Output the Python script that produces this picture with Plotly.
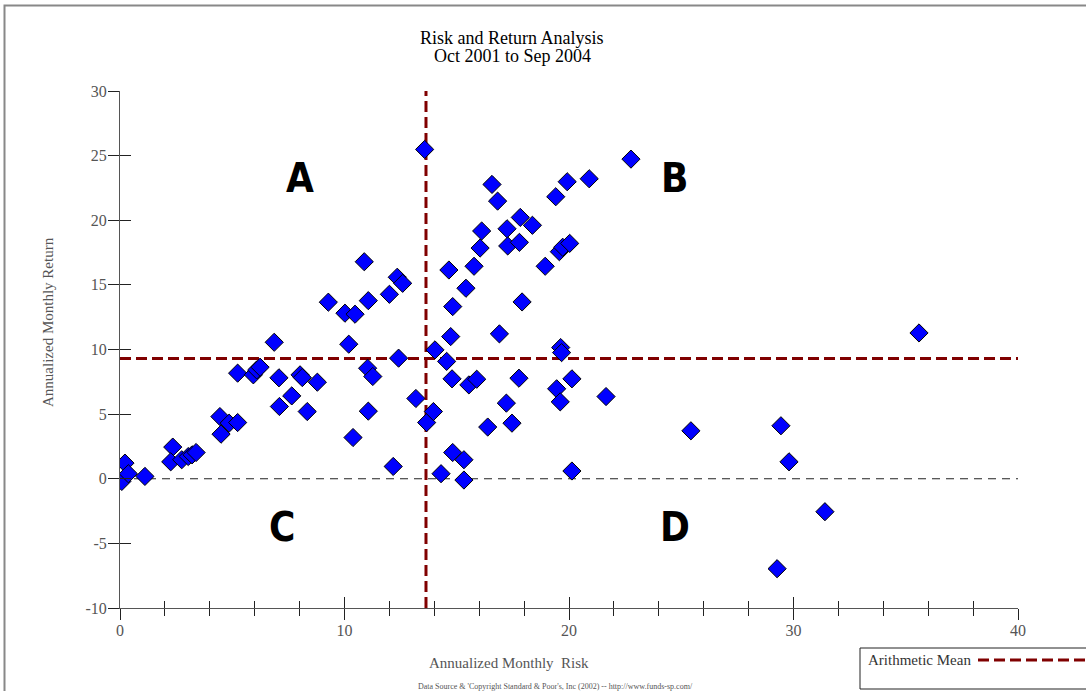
import plotly.graph_objects as go

# ---- data ----
risk = [0.08, 0.22, 0.37, 1.11, 2.35, 2.26, 2.75, 3.04, 3.21, 3.39,
        4.45, 4.86, 5.24, 4.50, 5.24, 5.94, 6.09, 6.24, 6.87, 7.08,
        7.10, 7.65, 8.02, 8.12, 8.34, 8.79, 9.28, 10.02, 10.19, 10.38,
        10.47, 10.88, 11.03, 11.06, 11.06, 11.26, 12.00, 12.17, 12.35, 12.59,
        12.41, 13.18, 13.57, 13.66, 13.96, 14.03, 14.30, 14.55, 14.65, 14.73,
        14.79, 14.82, 14.82, 15.32, 15.32, 15.41, 15.54, 15.89, 15.77, 16.04,
        16.11, 16.38, 16.57, 16.82, 16.90, 17.21, 17.24, 17.27, 17.46, 17.77,
        17.79, 17.83, 17.91, 18.37, 18.94, 19.41, 19.45, 19.57, 19.61, 19.63,
        19.67, 19.72, 19.92, 20.03, 20.13, 20.13, 20.90, 21.65, 22.76, 25.43,
        29.44, 29.80, 31.40, 29.27, 35.59]
ret = [-0.21, 1.21, 0.39, 0.18, 2.45, 1.31, 1.47, 1.72, 1.85, 2.03,
       4.81, 4.30, 4.35, 3.45, 8.17, 8.04, 8.42, 8.63, 10.56, 7.81,
       5.59, 6.41, 8.04, 7.83, 5.20, 7.47, 13.66, 12.81, 10.41, 3.19,
       12.73, 16.79, 8.55, 13.78, 5.23, 7.91, 14.27, 0.95, 15.59, 15.12,
       9.33, 6.21, 25.48, 4.35, 5.20, 9.97, 0.39, 9.08, 16.15, 11.00,
       7.73, 13.32, 2.03, 1.47, -0.10, 14.74, 7.26, 7.70, 16.44, 17.85,
       19.17, 4.00, 22.77, 21.48, 11.21, 5.85, 19.34, 18.01, 4.30, 7.78,
       18.29, 20.22, 13.68, 19.61, 16.44, 21.82, 6.96, 17.57, 5.95, 10.15,
       9.76, 17.91, 22.98, 18.21, 7.73, 0.60, 23.21, 6.36, 24.73, 3.71,
       4.10, 1.31, -2.55, -6.96, 11.28]

mean_risk = 13.63
mean_return = 9.3
x_range = [0, 40]
y_range = [-10, 30]
x_ticks = [0, 10, 20, 30, 40]
y_ticks = [-10, -5, 0, 5, 10, 15, 20, 25, 30]
y_tick_text = ["-10", "-5", "0", "5", "10", "15", "20", "25", "30"]

quadrant_labels = ["A", "B", "C", "D"]
quadrant_x = [8.0, 24.7, 7.2, 24.7]
quadrant_y = [23.3, 23.3, -3.7, -3.7]

title_lines = ["Risk and Return Analysis", "Oct 2001 to Sep 2004"]
x_title = "Annualized Monthly  Risk"
y_title = "Annualized Monthly Return"
footer = "Data Source & 'Copyright Standard & Poor's, Inc (2002) -- http://www.funds-sp.com/"
legend_label = "Arithmetic Mean"

SERIF = "Liberation Serif, DejaVu Serif, serif"
MEAN_COLOR = "#800000"
AX_COLOR = "#555555"
TICK_COLOR = "#222222"

fig = go.Figure()

# zero line
fig.add_trace(go.Scatter(x=x_range, y=[0, 0], mode="lines",
                         line=dict(color="#222222", width=1, dash="8px,6px"),
                         hoverinfo="skip", showlegend=False))
# mean lines
fig.add_trace(go.Scatter(x=x_range, y=[mean_return, mean_return], mode="lines",
                         line=dict(color=MEAN_COLOR, width=3, dash="11px,5px"),
                         name=legend_label, showlegend=False))
fig.add_trace(go.Scatter(x=[mean_risk, mean_risk], y=y_range, mode="lines",
                         line=dict(color=MEAN_COLOR, width=3, dash="11px,5px"),
                         showlegend=False, hoverinfo="skip"))
# funds
fig.add_trace(go.Scatter(x=risk, y=ret, mode="markers",
                         marker=dict(symbol="diamond", size=14, color="#0000FF",
                                     line=dict(color="black", width=1)),
                         showlegend=False))
# invisible trace for overlay axes (inner tick halves)
fig.add_trace(go.Scatter(x=[x_range[0]], y=[y_range[0]], xaxis="x2", yaxis="y2",
                         mode="markers", marker=dict(opacity=0),
                         hoverinfo="skip", showlegend=False))

# quadrant letters
for lab, qx, qy in zip(quadrant_labels, quadrant_x, quadrant_y):
    fig.add_annotation(x=qx, y=qy, text="<b>%s</b>" % lab, showarrow=False,
                       xanchor="center", yanchor="middle",
                       font=dict(family="DejaVu Sans Condensed, Liberation Sans Narrow, sans-serif",
                                 size=40, color="black"))

W, H = 1086, 691
L, R, T, B = 120, 68, 91, 83
pw, ph = W - L - R, H - T - B


def px(xp):
    return (xp - L) / pw


def py(yp):
    return (H - B - yp) / ph


def note(xp, yp, text, size, color, **kw):
    opts = dict(xref="paper", yref="paper", x=px(xp), y=py(yp), text=text,
                showarrow=False, xanchor="center", yanchor="middle",
                font=dict(family=SERIF, size=size, color=color))
    opts.update(kw)
    fig.add_annotation(**opts)


# axis titles and footer
note(48, 322, y_title, 15, "#555555", textangle=-90)
note(509, 663, x_title, 15, "#555555")
note(555, 686, footer, 8, "#555555")
# title (two lines, tight spacing)
for line, ty in zip(title_lines, [38, 56]):
    note(512, ty, line, 18, "black")

# legend box (manual)
fig.add_shape(type="rect", xref="paper", yref="paper",
              x0=px(860), x1=px(1100), y0=py(689), y1=py(648),
              line=dict(color="#222222", width=1), fillcolor="white")
note(866, 660, legend_label, 15, "#333333", xanchor="left")
fig.add_shape(type="line", xref="paper", yref="paper",
              x0=px(978), x1=px(1090), y0=py(660), y1=py(660),
              line=dict(color=MEAN_COLOR, width=3, dash="11px,5px"))
# outer frame
fig.add_shape(type="rect", xref="paper", yref="paper",
              x0=px(4.5), x1=px(1100), y0=py(700), y1=py(5.5),
              line=dict(color="#888888", width=2))

tick_font = dict(family=SERIF, size=16, color="#555555")
fig.update_layout(
    width=W, height=H,
    margin=dict(l=L, r=R, t=T, b=B, pad=0),
    paper_bgcolor="white", plot_bgcolor="white",
    showlegend=False,
    xaxis=dict(range=x_range, tickvals=x_ticks, showgrid=False, zeroline=False,
               showline=True, linecolor=AX_COLOR, linewidth=1,
               ticks="outside", ticklen=11, tickcolor=TICK_COLOR, tickwidth=1,
               ticklabelstandoff=-3,
               minor=dict(dtick=2, tick0=0, ticks="outside", ticklen=7,
                          tickcolor=TICK_COLOR, showgrid=False),
               tickfont=tick_font, fixedrange=True),
    yaxis=dict(range=y_range, tickvals=y_ticks, ticktext=y_tick_text,
               showgrid=False, zeroline=False,
               showline=True, linecolor=AX_COLOR, linewidth=1,
               ticks="outside", ticklen=11, tickcolor=TICK_COLOR, tickwidth=1,
               ticklabelstandoff=-2,
               tickfont=tick_font, fixedrange=True),
    xaxis2=dict(range=x_range, tickvals=x_ticks, overlaying="x", anchor="y2",
                side="bottom", showgrid=False, zeroline=False, showline=False,
                ticks="inside", ticklen=11, tickcolor=TICK_COLOR, showticklabels=False,
                minor=dict(dtick=2, tick0=0, ticks="inside", ticklen=7,
                           tickcolor=TICK_COLOR, showgrid=False)),
    yaxis2=dict(range=y_range, tickvals=y_ticks, overlaying="y", anchor="x2",
                side="left", showgrid=False, zeroline=False, showline=False,
                ticks="inside", ticklen=11, tickcolor=TICK_COLOR, showticklabels=False),
)

fig.write_html(
    "out.html",
    config={"displayModeBar": False},
    post_script="document.body.style.margin='0';document.body.style.overflow='hidden';"
                "window.dispatchEvent(new Event('resize'));",
)
